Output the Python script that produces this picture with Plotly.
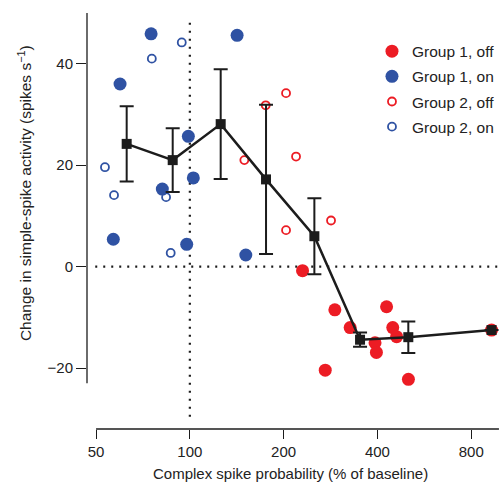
import plotly.graph_objects as go

# ---- data ----
g1_off_x = [230, 292, 327, 393, 397, 428, 448, 461, 272, 503, 930]
g1_off_y = [-0.8, -8.5, -12.0, -15.0, -16.9, -7.9, -12.0, -13.8, -20.4, -22.2, -12.5]

g1_on_x = [75.1, 141.8, 59.7, 98.9, 102.6, 81.6, 56.8, 97.7, 151.2]
g1_on_y = [45.9, 45.6, 36.0, 25.7, 17.5, 15.3, 5.4, 4.4, 2.3]

g2_off_x = [175.2, 203.6, 149.6, 219.2, 203.6, 283.9]
g2_off_y = [31.8, 34.2, 21.0, 21.7, 7.2, 9.1]

g2_on_x = [94.2, 75.5, 53.4, 57.1, 83.9, 86.8]
g2_on_y = [44.2, 41.0, 19.6, 14.1, 13.7, 2.7]

mean_x = [62.7, 88.1, 125.6, 175.6, 251, 351.8, 502.6, 930]
mean_y = [24.2, 21.0, 28.1, 17.2, 6.0, -14.4, -13.9, -12.5]
mean_err = [7.4, 6.3, 10.8, 14.7, 7.5, 1.4, 3.1, None]

x_ticks = [50, 100, 200, 400, 800]
y_ticks = [-20, 0, 20, 40]

RED = "#ec1c24"
BLUE = "#2f52a3"
BLACK = "#1c1c1c"
FONT = "Liberation Sans, Arial, Helvetica, sans-serif"

fig = go.Figure()

fig.add_trace(go.Scatter(x=g1_off_x, y=g1_off_y, mode="markers", name="Group 1, off",
                         legendgroup="a",
                         marker=dict(symbol="circle", size=13, color=RED, line=dict(width=0))))
fig.add_trace(go.Scatter(x=g1_on_x, y=g1_on_y, mode="markers", name="Group 1, on",
                         legendgroup="b",
                         marker=dict(symbol="circle", size=13, color=BLUE, line=dict(width=0))))
fig.add_trace(go.Scatter(x=g2_off_x, y=g2_off_y, mode="markers", name="Group 2, off",
                         legendgroup="c",
                         marker=dict(symbol="circle-open", size=8, color=RED, line=dict(width=1.8, color=RED))))
fig.add_trace(go.Scatter(x=g2_on_x, y=g2_on_y, mode="markers", name="Group 2, on",
                         legendgroup="d",
                         marker=dict(symbol="circle-open", size=8, color=BLUE, line=dict(width=1.8, color=BLUE))))

fig.add_trace(go.Scatter(x=mean_x, y=mean_y, mode="lines+markers", showlegend=False,
                         line=dict(color=BLACK, width=2.5),
                         marker=dict(symbol="square", size=10, color=BLACK),
                         error_y=dict(type="data", array=mean_err, symmetric=True,
                                      color=BLACK, thickness=2, width=7)))

dot = "2px,6px"
# reference dotted lines
fig.add_shape(type="line", xref="x", yref="y", x0=100, x1=100, y0=-29.6, y1=48.6,
              line=dict(color=BLACK, width=2.2, dash=dot), layer="below")
fig.add_shape(type="line", xref="paper", yref="y", x0=0.02, x1=1, y0=0, y1=0,
              line=dict(color=BLACK, width=2.2, dash=dot), layer="below")
# axis spines (offset style)
fig.add_shape(type="line", xref="paper", yref="y", x0=0, x1=0, y0=-23, y1=50,
              line=dict(color=BLACK, width=1.3), layer="below")
fig.add_shape(type="line", xref="x", yref="paper", x0=50, x1=982, y0=0, y1=0,
              line=dict(color=BLACK, width=1.3), layer="below")

fig.update_xaxes(type="log", range=[1.66989, 2.9923], tickvals=x_ticks,
                 ticktext=[str(v) for v in x_ticks],
                 showline=False, showgrid=False, zeroline=False, automargin=False,
                 ticks="outside", ticklen=9, tickwidth=1.3, tickcolor=BLACK,
                 tickfont=dict(family=FONT, size=15, color="#222"))
fig.update_yaxes(range=[-32, 50], tickvals=y_ticks,
                 showline=False, showgrid=False, zeroline=False, automargin=False,
                 ticks="outside", ticklen=10, tickwidth=1.3, tickcolor=BLACK,
                 tickfont=dict(family=FONT, size=15, color="#222"))

fig.add_annotation(text="Complex spike probability (% of baseline)", xref="paper", yref="paper",
                   x=0.493, y=0, yshift=-55, showarrow=False,
                   font=dict(family=FONT, size=15, color="#222"))
fig.add_annotation(text="Change in simple-spike activity (spikes s<sup>\u22121</sup>)",
                   xref="paper", yref="y", x=0, xshift=-74, y=14.5, textangle=-90,
                   showarrow=False, font=dict(family=FONT, size=15.5, color="#222"))

fig.update_layout(
    width=499, height=487,
    margin=dict(l=87, r=0, t=13, b=58, autoexpand=False),
    paper_bgcolor="white", plot_bgcolor="white",
    font=dict(family=FONT, color="#222"),
    legend=dict(x=0.6917, y=0.948, xanchor="left", yanchor="top",
                font=dict(family=FONT, size=15.5, color="#222"),
                bgcolor="rgba(0,0,0,0)", tracegroupgap=2, itemwidth=30),
)

fig.write_html("out.html", config={"displayModeBar": False},
               post_script="document.body.style.margin='0px';")
